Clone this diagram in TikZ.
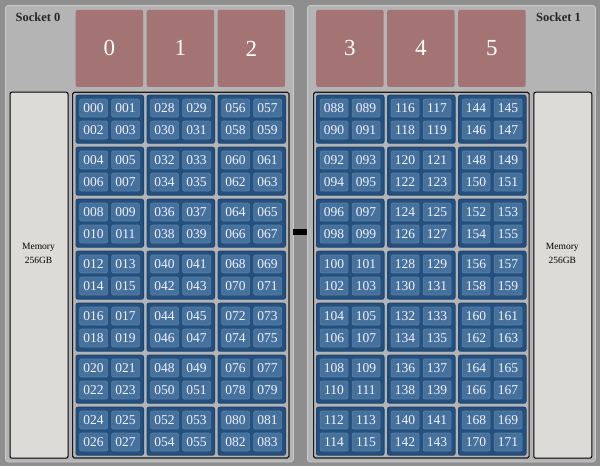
\documentclass[tikz,border=0pt]{standalone}
\usepackage{fontspec}
\setmainfont{Liberation Serif}
\usepackage{xcolor}
\usepackage{tikz}

\definecolor{bggray}{HTML}{8E8E8E}
\definecolor{panelgray}{HTML}{B4B4B4}
\definecolor{numared}{HTML}{A47474}
\definecolor{blockblue}{HTML}{254F7C}
\definecolor{blockline}{HTML}{1B4673}
\definecolor{coreblue}{HTML}{46719C}
\definecolor{coreline}{HTML}{5580AA}
\definecolor{memgray}{HTML}{DCDBD7}

\newcommand{\padnum}[1]{\ifnum#1<10 00#1\else\ifnum#1<100 0#1\else#1\fi\fi}

\tikzset{
	socketbox/.style={anchor=north west, fill=panelgray, draw=panelgray!70!white, line width=0.8pt, rounded corners=3pt, minimum width=288pt, minimum height=456.5pt, inner sep=0pt},
	socketlabel/.style={text=black!85, font=\bfseries\fontsize{12.5}{12.5}\selectfont},
	numabox/.style={anchor=north west, fill=numared, rounded corners=2pt, minimum width=67.5pt, minimum height=77pt, inner sep=0pt, text=white, font=\fontsize{23}{23}\selectfont},
	membox/.style={anchor=north west, fill=memgray, draw=black, line width=1pt, rounded corners=2pt, minimum width=58pt, minimum height=366pt, inner sep=0pt},
	memlabel/.style={align=center, font=\fontsize{9.5}{13.3}\selectfont},
	corebay/.style={anchor=north west, fill=panelgray, draw=black!90, line width=1.2pt, rounded corners=1.5pt, minimum height=365.6pt, inner sep=0pt},
	ccxbox/.style={anchor=north west, fill=blockblue, draw=blockline, line width=1pt, rounded corners=2pt, minimum width=67.5pt, minimum height=48pt, inner sep=0pt},
	corebox/.style={anchor=north west, fill=coreblue, draw=coreline, line width=0.7pt, rounded corners=2pt, minimum width=28pt, minimum height=18pt, inner sep=0pt, text=white!95!blue, font=\fontsize{13.5}{13.5}\selectfont},
	linkbar/.style={fill=black, minimum width=14pt, minimum height=6pt, inner sep=0pt}
}

\begin{document}
\begin{tikzpicture}[x=1pt, y=-1pt]
		\fill[bggray] (0,0) rectangle (600,466);
		\useasboundingbox (0,0) rectangle (600,466);

		% the two sockets
		\node[socketbox] (sock0) at (5,5) {};
		\node[socketbox] (sock1) at (307,5) {};
		\node[socketlabel] (sock0label) at (38,17) {Socket 0};
		\node[socketlabel] (sock1label) at (558.5,17) {Socket 1};

		% numa nodes
		\foreach \i/\x in {0/75.5, 1/146.5, 2/217.5, 3/316, 4/387, 5/458} {
			\node[numabox] (numa\i) at (\x,9.7) {\i};
		}

		% memory
		\node[membox] (mem0) at (9.5,91.7) {};
		\node[membox] (mem1) at (533.3,91.7) {};
		\node[memlabel] (mem0label) at (38.5,253.5) {Memory\\256GB};
		\node[memlabel] (mem1label) at (562.3,253.5) {Memory\\256GB};

		% core areas
		\node[corebay, minimum width=216.3pt] (bay0) at (72,91.7) {};
		\node[corebay, minimum width=215.5pt] (bay1) at (313,91.7) {};

		% link between the sockets
		\node[linkbar] (link) at (300,232.3) {};

		% ccx blocks and cores
		\foreach \s/\xo/\off in {0/75.5/0, 1/316/88} {
			\foreach \c in {0,1,2} {
				\foreach \r in {0,...,6} {
					\pgfmathsetmacro{\bx}{\xo+71*\c}
					\pgfmathsetmacro{\by}{94.7+52*\r}
					\node[ccxbox] (ccx-\s-\c-\r) at (\bx,\by) {};
					\foreach \k in {0,1} {
						\foreach \j in {0,1} {
							\pgfmathtruncatemacro{\n}{\off+28*\c+4*\r+2*\k+\j}
							\node[corebox] (core\n) at (\bx+3.75+32*\j,\by+4+22*\k) {\padnum{\n}};
						}
					}
				}
			}
		}

	\end{tikzpicture}
\end{document}
